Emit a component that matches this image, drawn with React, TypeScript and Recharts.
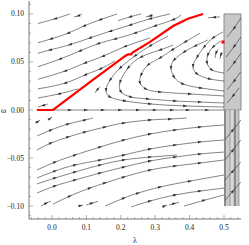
import React from 'react';
import {
  ComposedChart,
  XAxis,
  YAxis,
  Line,
  Scatter,
  ReferenceArea,
} from 'recharts';

// plot window (λ, ω)
const X_MIN = -0.0669;
const X_MAX = 0.5494;
const Y_MIN = -0.1135;
const Y_MAX = 0.1135;

const xTicks = [
  -0.06, -0.04, -0.02, 0, 0.02, 0.04, 0.06, 0.08, 0.1, 0.12, 0.14, 0.16, 0.18, 0.2, 0.22, 0.24,
  0.26, 0.28, 0.3, 0.32, 0.34, 0.36, 0.38, 0.4, 0.42, 0.44, 0.46, 0.48, 0.5, 0.52, 0.54,
];
const yTicks = [
  -0.11, -0.1, -0.09, -0.08, -0.07, -0.06, -0.05, -0.04, -0.03, -0.02, -0.01, 0, 0.01, 0.02,
  0.03, 0.04, 0.05, 0.06, 0.07, 0.08, 0.09, 0.1, 0.11,
];
const xMajor = [0, 0.1, 0.2, 0.3, 0.4, 0.5];
const yMajor = [-0.1, -0.05, 0, 0.05, 0.1];

// streamlines above the red curve (flow to the left)
const upper: number[][][] = [
  [[0.052, 0.1], [0.009, 0.095], [-0.041, 0.09]],
  [[0.087, 0.1], [0.076, 0.098], [0.064, 0.097]],
  [[0.189, 0.1], [0.14, 0.094], [0.093, 0.0875], [0.047, 0.08], [-0.003, 0.074], [-0.041, 0.07]],
  [[0.259, 0.1], [0.227, 0.097], [0.192, 0.093]],
  [[0.294, 0.099], [0.285, 0.098], [0.273, 0.097]],
  [[0.343, 0.1], [0.285, 0.095], [0.227, 0.0885], [0.169, 0.082], [0.11, 0.075], [0.052, 0.068], [-0.006, 0.0625], [-0.041, 0.059]],
  [[0.375, 0.099], [0.352, 0.094], [0.299, 0.0875], [0.241, 0.08], [0.183, 0.074], [0.134, 0.069], [0.081, 0.0615], [0.023, 0.053], [-0.041, 0.045]],
  [[0.285, 0.075], [0.212, 0.066], [0.148, 0.056], [0.096, 0.049], [0.038, 0.0406], [-0.041, 0.032]],
  [[0.183, 0.051], [0.14, 0.0427], [0.096, 0.0365], [0.038, 0.028], [-0.041, 0.022]],
  [[0.076, 0.022], [0.02, 0.0167], [-0.041, 0.0125]],
  [[-0.012, 0.0063], [-0.026, 0.0047], [-0.041, 0.0031]],
  [[0.488, 0.097], [0.471, 0.0965], [0.453, 0.096]],
];

// loops under the red curve
const loops: number[][][] = [
  [[0.337, 0.077], [0.285, 0.0667], [0.241, 0.0563], [0.198, 0.0438], [0.169, 0.0313], [0.157, 0.0208], [0.169, 0.0135], [0.212, 0.0094], [0.285, 0.0063], [0.387, 0.0042], [0.5, 0.0031]],
  [[0.352, 0.0677], [0.314, 0.0625], [0.259, 0.0552], [0.221, 0.0438], [0.198, 0.0292], [0.201, 0.0188], [0.23, 0.0135], [0.279, 0.0115], [0.358, 0.0094], [0.43, 0.0083], [0.5, 0.0073]],
  [[0.43, 0.08], [0.387, 0.0708], [0.349, 0.0625], [0.314, 0.0542], [0.279, 0.0469], [0.259, 0.0365], [0.256, 0.0281], [0.273, 0.0219], [0.314, 0.0188], [0.401, 0.0167], [0.5, 0.0146]],
  [[0.453, 0.0729], [0.416, 0.0667], [0.384, 0.0604], [0.355, 0.0521], [0.346, 0.0438], [0.355, 0.0344], [0.381, 0.0271], [0.433, 0.0229], [0.5, 0.0198]],
  [[0.497, 0.0813], [0.468, 0.075], [0.442, 0.0656], [0.422, 0.0552], [0.41, 0.0458], [0.422, 0.0375], [0.459, 0.0323], [0.5, 0.0302]],
  [[0.491, 0.0719], [0.468, 0.0656], [0.453, 0.0573], [0.451, 0.049], [0.465, 0.0417], [0.5, 0.0385]],
  [[0.483, 0.0635], [0.477, 0.0594], [0.474, 0.0542]],
  [[0.494, 0.0604], [0.491, 0.0573], [0.488, 0.0531]],
  [[0.14, 0.024], [0.131, 0.0208], [0.125, 0.0177]],
];

// the ω = 0 line
const zeroLine: number[][] = [
  [0.003, 0], [0.052, 0], [0.099, 0], [0.148, 0], [0.198, 0], [0.25, 0], [0.299, 0],
  [0.349, 0], [0.395, 0], [0.451, 0], [0.5, 0],
];

// streamlines below the axis (flow to the right)
const lower: number[][][] = [
  [[-0.049, -0.0135], [-0.041, -0.012], [-0.035, -0.0104]],
  [[-0.012, -0.0104], [-0.006, -0.0089], [0.0, -0.0073]],
  [[-0.044, -0.0271], [-0.003, -0.0208], [0.047, -0.0146], [0.096, -0.0104], [0.119, -0.0083]],
  [[-0.044, -0.0417], [-0.003, -0.0344], [0.047, -0.0281], [0.096, -0.0229], [0.154, -0.0177], [0.209, -0.0135], [0.285, -0.0104], [0.343, -0.0094], [0.392, -0.0083]],
  [[-0.044, -0.0625], [0.009, -0.0542], [0.067, -0.0469], [0.14, -0.0385], [0.209, -0.0313], [0.285, -0.025], [0.358, -0.0208], [0.43, -0.0177], [0.5, -0.0156]],
  [[-0.044, -0.0708], [0.009, -0.0635], [0.067, -0.0573], [0.14, -0.0521], [0.209, -0.0469], [0.285, -0.0406], [0.358, -0.0365], [0.43, -0.0333], [0.5, -0.0313]],
  [[-0.044, -0.077], [0.009, -0.0708], [0.067, -0.0646], [0.14, -0.0573], [0.209, -0.052], [0.285, -0.049], [0.363, -0.0469]],
  [[-0.044, -0.0865], [0.009, -0.079], [0.067, -0.0729], [0.14, -0.0656], [0.209, -0.0594], [0.285, -0.0531], [0.358, -0.049], [0.43, -0.0458], [0.5, -0.0438]],
  [[0.003, -0.098], [0.052, -0.0896], [0.11, -0.0813], [0.154, -0.076], [0.209, -0.0698], [0.285, -0.0625], [0.358, -0.0583], [0.43, -0.0552], [0.5, -0.052]],
  [[0.154, -0.1], [0.209, -0.0917], [0.25, -0.0865], [0.314, -0.0802], [0.401, -0.074], [0.5, -0.0677]],
  [[0.23, -0.101], [0.285, -0.0948], [0.358, -0.0885], [0.43, -0.0844], [0.5, -0.0813]],
  [[-0.032, -0.1], [-0.017, -0.097], [-0.003, -0.095]],
  [[0.076, -0.1], [0.083, -0.0995], [0.09, -0.099]],
  [[0.099, -0.099], [0.116, -0.097], [0.134, -0.095]],
  [[0.32, -0.101], [0.327, -0.1], [0.334, -0.099]],
  [[0.34, -0.099], [0.355, -0.0974], [0.369, -0.096]],
  [[0.384, -0.1], [0.442, -0.094], [0.5, -0.0885]],
];

// lines inside the shaded strip
const strip: number[][][] = [
  [[0.549, 0.096], [0.529, 0.085], [0.509, 0.076]],
  [[0.549, 0.076], [0.529, 0.066], [0.506, 0.055]],
  [[0.549, 0.059], [0.529, 0.049], [0.509, 0.04]],
  [[0.549, 0.04], [0.529, 0.03], [0.509, 0.021]],
  [[0.544, 0.023], [0.526, 0.0146], [0.509, 0.0073]],
  [[0.503, -0.094], [0.526, -0.0844], [0.549, -0.075]],
  [[0.503, -0.073], [0.526, -0.0635], [0.549, -0.054]],
  [[0.503, -0.052], [0.526, -0.0417], [0.549, -0.031]],
  [[0.503, -0.031], [0.526, -0.0208], [0.549, -0.0104]],
];

// red trajectory and fixed point
const redPath: number[][] = [
  [-0.044, 0], [0.003, 0], [0.11, 0.029], [0.212, 0.056], [0.221, 0.058], [0.23, 0.058],
  [0.235, 0.06], [0.285, 0.071], [0.352, 0.0875], [0.395, 0.095], [0.439, 0.1],
];
const redPoint = [{ x: 0.497, y: 0.0708 }];

// vertical bands below the axis
const bands = [
  { x1: 0.5, x2: 0.506, fill: '#8a8a8a' },
  { x1: 0.506, x2: 0.515, fill: '#c9c9c9' },
  { x1: 0.515, x2: 0.52, fill: '#a8a8a8' },
  { x1: 0.52, x2: 0.528, fill: '#dadada' },
  { x1: 0.528, x2: 0.535, fill: '#8a8a8a' },
  { x1: 0.535, x2: 0.541, fill: '#c4c4c4' },
  { x1: 0.541, x2: 0.545, fill: '#a0a0a0' },
];

const W = 249;
const H = 245;
const M = { top: 1, right: 8, left: 0, bottom: 0 };
const PX_X = (W - 29 - M.right) / (X_MAX - X_MIN);
const PX_Y = (H - 26 - M.top) / (Y_MAX - Y_MIN);
const INK = '#333';
const FRAME = '#777';
const FONT = '"Liberation Serif", "DejaVu Serif", serif';

const isMajor = (v: number, list: number[]) => list.some((m) => Math.abs(m - v) < 1e-9);
const fmtY = (v: number) => (v < 0 ? '\u2212' : '') + Math.abs(v).toFixed(2);

const arrowDot = (line: number[][]) => (props: any) => {
  const { cx, cy, index } = props;
  const k = `a${index}`;
  if (cx == null || index <= 0 || index >= line.length - 1) return <g key={k} />;
  const dx = (line[index + 1][0] - line[index - 1][0]) * PX_X;
  const dy = -(line[index + 1][1] - line[index - 1][1]) * PX_Y;
  const ang = (Math.atan2(dy, dx) * 180) / Math.PI;
  return (
    <path
      key={k}
      d="M2.1,0 L-2,-1.3 L-2,1.3 Z"
      transform={`translate(${cx},${cy}) rotate(${ang})`}
      fill={INK}
    />
  );
};

const BottomTick = (p: any) => {
  const v = p.payload.value;
  const major = isMajor(v, xMajor);
  return (
    <g>
      <line x1={p.x} x2={p.x} y1={p.y} y2={p.y - (major ? 4 : 2)} stroke={FRAME} strokeWidth={0.6} />
      {major && (
        <text x={p.x} y={p.y + 11} textAnchor="middle" fontSize={7.5} fontFamily={FONT} fill="#222" stroke="none">
          {v.toFixed(1)}
        </text>
      )}
    </g>
  );
};
const TopTick = (p: any) => {
  const major = isMajor(p.payload.value, xMajor);
  return <line x1={p.x} x2={p.x} y1={p.y} y2={p.y + (major ? 4 : 2)} stroke={FRAME} strokeWidth={0.6} />;
};
const LeftTick = (p: any) => {
  const v = p.payload.value;
  const major = isMajor(v, yMajor);
  return (
    <g>
      <line x1={p.x} x2={p.x + (major ? 4 : 2)} y1={p.y} y2={p.y} stroke={FRAME} strokeWidth={0.6} />
      {major && (
        <text x={p.x - 5} y={p.y + 2.5} textAnchor="end" fontSize={7.5} fontFamily={FONT} fill="#222" stroke="none">
          {fmtY(v)}
        </text>
      )}
    </g>
  );
};
const RightTick = (p: any) => {
  const major = isMajor(p.payload.value, yMajor);
  return <line x1={p.x} x2={p.x - (major ? 4 : 2)} y1={p.y} y2={p.y} stroke={FRAME} strokeWidth={0.6} />;
};

const toData = (line: number[][]) => line.map(([x, y]) => ({ x, y }));

const Stream = (line: number[][], key: string) => (
  <Line
    key={key}
    data={toData(line)}
    dataKey="y"
    type="natural"
    stroke={INK}
    strokeWidth={0.6}
    dot={arrowDot(line)}
    activeDot={false}
    isAnimationActive={false}
  />
);

export default function App() {
  return (
    <div style={{ position: 'absolute', left: 0, top: 0, width: W, height: H, background: '#fff' }}>
      <ComposedChart width={W} height={H} margin={M}>
        <XAxis
          xAxisId={0}
          dataKey="x"
          type="number"
          domain={[X_MIN, X_MAX]}
          allowDataOverflow
          ticks={xTicks}
          interval={0}
          height={26}
          tickSize={0}
          tickMargin={0}
          tickLine={false}
          axisLine={{ stroke: FRAME }}
          tick={(p: any) => <BottomTick {...p} />}
          label={{ value: '\u03bb', position: 'insideBottom', offset: 2, fontSize: 8, fontFamily: FONT, fill: '#222' }}
        />
        <XAxis
          xAxisId="top"
          orientation="top"
          dataKey="x"
          type="number"
          domain={[X_MIN, X_MAX]}
          allowDataOverflow
          ticks={xTicks}
          interval={0}
          height={0}
          tickSize={0}
          tickMargin={0}
          tickLine={false}
          axisLine={{ stroke: FRAME }}
          tick={(p: any) => <TopTick {...p} />}
        />
        <YAxis
          yAxisId={0}
          type="number"
          domain={[Y_MIN, Y_MAX]}
          allowDataOverflow
          ticks={yTicks}
          interval={0}
          width={29}
          tickSize={0}
          tickMargin={0}
          tickLine={false}
          axisLine={{ stroke: FRAME }}
          tick={(p: any) => <LeftTick {...p} />}
          label={{ value: '\u03c9', position: 'insideLeft', offset: 1, fontSize: 8, fontFamily: FONT, fill: '#222' }}
        />
        <YAxis
          yAxisId="right"
          orientation="right"
          type="number"
          domain={[Y_MIN, Y_MAX]}
          allowDataOverflow
          ticks={yTicks}
          interval={0}
          width={0}
          tickSize={0}
          tickMargin={0}
          tickLine={false}
          axisLine={{ stroke: FRAME }}
          tick={(p: any) => <RightTick {...p} />}
        />
        <ReferenceArea x1={0.5} x2={X_MAX} y1={0} y2={0.1} fill="#c8c8c8" fillOpacity={1} stroke="#8a8a8a" strokeWidth={1} />
        {bands.map((b, i) => (
          <ReferenceArea key={`b${i}`} x1={b.x1} x2={b.x2} y1={-0.1} y2={0} fill={b.fill} fillOpacity={1} stroke="none" />
        ))}
        {upper.map((l, i) => Stream(l, `u${i}`))}
        {loops.map((l, i) => Stream(l, `c${i}`))}
        {Stream(zeroLine, 'z')}
        {lower.map((l, i) => Stream(l, `l${i}`))}
        {strip.map((l, i) => Stream(l, `s${i}`))}
        <Line
          data={toData(redPath)}
          dataKey="y"
          type="linear"
          stroke="#ff0000"
          strokeWidth={2.2}
          dot={false}
          activeDot={false}
          isAnimationActive={false}
        />
        <Scatter
          data={redPoint}
          dataKey="y"
          fill="#ff0000"
          isAnimationActive={false}
          shape={(p: any) => <rect x={p.cx - 1.5} y={p.cy - 1.5} width={3} height={3} fill="#ff0000" />}
        />
      </ComposedChart>
    </div>
  );
}
